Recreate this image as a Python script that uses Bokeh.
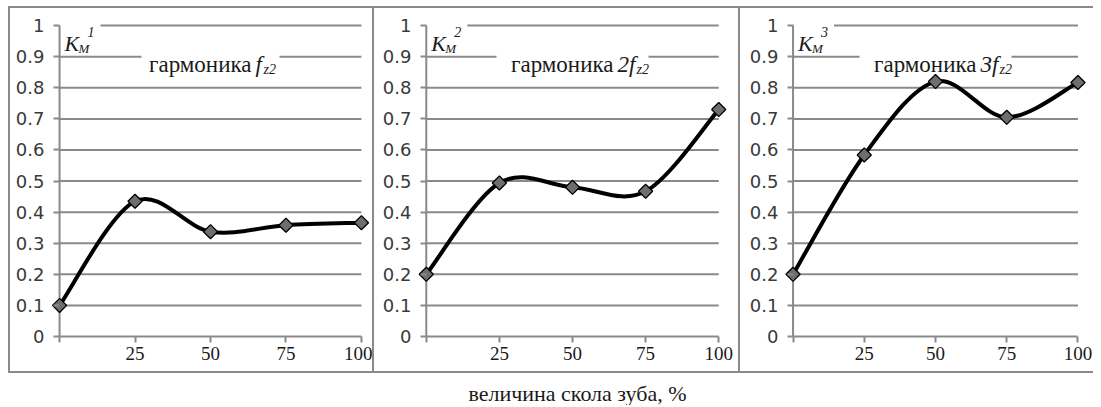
from bokeh.plotting import figure
from bokeh.models import Range1d, FixedTicker, ColumnDataSource, Spacer
from bokeh.layouts import row, column
from bokeh.embed import file_html
from bokeh.resources import INLINE
from bokeh.core.properties import value

# ---------------- data ----------------
x_vals = [0, 25, 50, 75, 100]
x_tick_labels = ["", "25", "50", "75", "100"]
y_ticks = [0, 0.1, 0.2, 0.3, 0.4, 0.5, 0.6, 0.7, 0.8, 0.9, 1]
y_tick_labels = ["0", "0.1", "0.2", "0.3", "0.4", "0.5", "0.6", "0.7", "0.8", "0.9", "1"]

k1 = [0.10, 0.435, 0.337, 0.358, 0.366]
k2 = [0.20, 0.494, 0.480, 0.467, 0.730]
k3 = [0.20, 0.584, 0.820, 0.705, 0.817]

series = [k1, k2, k3]
superscripts = ["1", "2", "3"]
title_word = "гармоника"
title_prefix = ["", "2", "3"]
axis_title = "величина скола зуба, %"

# ---------------- style ----------------
GRID = "#8a8a8a"
BORDER = "#8a8a8a"
SERIF = "Liberation Serif"
SANS = "DejaVu Sans"
TXT = "#1a1a1a"

PANEL_H = 363
# panel geometry: width, min_border_left, min_border_right
panels = [
    dict(width=362, mbl=40, mbr=2),
    dict(width=364, mbl=43, mbr=11),
    dict(width=353, mbl=44, mbr=7),
]
PAD = 3.0


def bezier_source(xs, ys):
    n = len(xs)
    d = dict(x0=[], y0=[], x1=[], y1=[], cx0=[], cy0=[], cx1=[], cy1=[])
    for i in range(n - 1):
        i0 = max(i - 1, 0)
        i3 = min(i + 2, n - 1)
        d["x0"].append(xs[i]); d["y0"].append(ys[i])
        d["x1"].append(xs[i + 1]); d["y1"].append(ys[i + 1])
        d["cx0"].append(xs[i] + (xs[i + 1] - xs[i0]) / 6.0)
        d["cy0"].append(ys[i] + (ys[i + 1] - ys[i0]) / 6.0)
        d["cx1"].append(xs[i + 1] - (xs[i3] - xs[i]) / 6.0)
        d["cy1"].append(ys[i + 1] - (ys[i3] - ys[i]) / 6.0)
    return ColumnDataSource(d)


def txt(p, x, y, s, dx, dy, size, italic=False, align="left"):
    p.text(x=[x], y=[y], text=[s], x_offset=dx, y_offset=dy,
           text_align=align, text_baseline="alphabetic",
           text_font_style="italic" if italic else "normal",
           text_font=value(SERIF), text_font_size=size, text_color=TXT)


figs = []
for idx, (ys, geo) in enumerate(zip(series, panels)):
    p = figure(width=geo["width"], height=PANEL_H,
               x_range=Range1d(x_vals[0] - PAD, x_vals[-1] + PAD),
               y_range=Range1d(0, 1.01),
               output_backend="svg", toolbar_location=None, tools="",
               min_border_left=geo["mbl"], min_border_right=geo["mbr"],
               min_border_top=14, min_border_bottom=35,
               background_fill_color="white", border_fill_color="white")
    p.outline_line_color = None
    p.xgrid.visible = False
    p.ygrid.visible = False

    # horizontal gridlines limited to the category span
    gl = y_ticks[1:]
    p.segment(x0=[x_vals[0]] * len(gl), y0=gl, x1=[x_vals[-1]] * len(gl), y1=gl,
              line_color=GRID, line_width=2)

    # axes
    xa = p.xaxis[0]
    xa.ticker = FixedTicker(ticks=x_vals)
    xa.major_label_overrides = {v: l for v, l in zip(x_vals, x_tick_labels)}
    xa.bounds = (x_vals[0], x_vals[-1])
    xa.axis_line_color = GRID
    xa.axis_line_width = 2
    xa.major_tick_line_color = GRID
    xa.major_tick_line_width = 2
    xa.major_tick_out = 6
    xa.major_tick_in = 0
    xa.minor_tick_line_color = None
    xa.major_label_standoff = 4
    xa.major_label_text_font = SERIF
    xa.major_label_text_font_size = "19px"
    xa.major_label_text_color = TXT

    ya = p.yaxis[0]
    ya.ticker = FixedTicker(ticks=y_ticks)
    ya.major_label_overrides = {v: l for v, l in zip(y_ticks, y_tick_labels)}
    ya.axis_line_color = None
    ya.major_tick_line_color = GRID
    ya.major_tick_line_width = 2
    ya.major_tick_out = -3
    ya.major_tick_in = 9
    ya.minor_tick_line_color = None
    ya.major_label_standoff = 6
    ya.major_label_text_font = SANS
    ya.major_label_text_font_size = "18px"
    ya.major_label_text_color = "#3a3a3a"

    # white boxes behind the title and the K label
    gap_w = 138 if title_prefix[idx] == "" else 152
    p.rect(x=[50], y=[0.9], width=[gap_w], height=[18],
           width_units="screen", height_units="screen",
           fill_color="white", line_color=None)
    p.rect(x=[0], y=[1], width=[82], height=[36],
           width_units="screen", height_units="screen",
           fill_color="white", line_color=None)

    # value axis line at x = first category
    p.segment(x0=[x_vals[0]], y0=[y_ticks[0]], x1=[x_vals[0]], y1=[y_ticks[-1]],
              line_color=GRID, line_width=2)

    # title "гармоника n f_z2"
    txt(p, 50, 0.9, title_word, 41, 8, "23px", align="right")
    txt(p, 50, 0.9, title_prefix[idx] + "f", 45, 8, "23px", italic=True)
    txt(p, 50, 0.9, "z2", 53 if title_prefix[idx] == "" else 64, 13, "14px", italic=True)

    # K_M^i
    txt(p, 0, 1, "K", 5, 18, "22px", italic=True)
    txt(p, 0, 1, "M", 19, 23, "13px", italic=True)
    txt(p, 0, 1, superscripts[idx], 28, 6, "14px", italic=True)

    # smoothed line and markers
    p.bezier(x0="x0", y0="y0", x1="x1", y1="y1", cx0="cx0", cy0="cy0",
             cx1="cx1", cy1="cy1", source=bezier_source(x_vals, ys),
             line_color="black", line_width=4, line_cap="round")
    p.scatter(x=x_vals, y=ys, marker="square", angle=0.785398, size=10,
              fill_color="#6e6e6e", line_color="black", line_width=1.3)
    figs.append(p)


def vline():
    return Spacer(width=2, height=PANEL_H, margin=0,
                  styles={"background-color": BORDER})


def hline(w):
    return Spacer(width=w, height=2, margin=0, styles={"background-color": BORDER})


total_w = 2 + sum(g["width"] for g in panels) + 2 * 2
top = row(Spacer(width=8, height=2, margin=0), hline(total_w), spacing=0)
mid = row(Spacer(width=8, height=PANEL_H, margin=0), vline(), figs[0], vline(), figs[1],
          vline(), figs[2], spacing=0)
bot = row(Spacer(width=8, height=2, margin=0), hline(total_w), spacing=0)

# bottom axis title
t = figure(width=1085, height=32, x_range=Range1d(0, 1085), y_range=Range1d(0, 32),
           output_backend="svg", toolbar_location=None, tools="",
           x_axis_location=None, y_axis_location=None,
           min_border=0, min_border_left=0, min_border_right=0,
           min_border_top=0, min_border_bottom=0)
t.grid.visible = False
t.outline_line_color = None
t.text(x=[577], y=[12], text=[axis_title], text_align="center",
       text_baseline="alphabetic", text_font=value(SERIF),
       text_font_size="22px", text_color=TXT)

layout = column(Spacer(width=8, height=6, margin=0), top, mid, bot, t, spacing=0)
open("out.html", "w").write(file_html(layout, INLINE))
